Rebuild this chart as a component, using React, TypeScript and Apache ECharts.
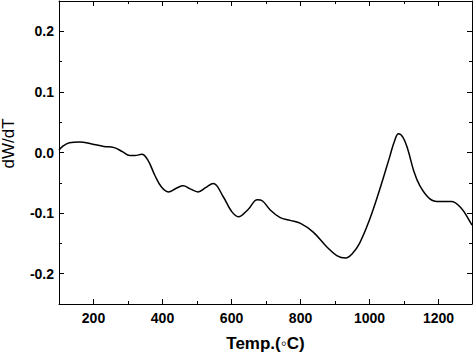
import React, { useEffect, useRef } from "react";
import * as echarts from "echarts";

const temps = [100, 108, 130, 160, 195, 230, 260, 285, 305, 320, 340, 358, 378, 397, 417, 440, 460, 480, 503, 525, 547, 576, 600, 620, 648, 675, 690, 711, 740, 770, 800, 836, 875, 905, 931, 950, 971, 1000, 1029, 1058, 1072, 1084, 1097, 1111, 1128, 1145, 1174, 1203, 1237, 1266, 1290, 1297];
const dwdt = [0.004, 0.009, 0.016, 0.0175, 0.014, 0.01, 0.008, 0.001, -0.005, -0.005, -0.003, -0.013, -0.038, -0.057, -0.065, -0.059, -0.055, -0.06, -0.065, -0.058, -0.051, -0.073, -0.097, -0.106, -0.094, -0.078, -0.08, -0.094, -0.107, -0.112, -0.117, -0.131, -0.155, -0.17, -0.174, -0.167, -0.15, -0.111, -0.062, -0.008, 0.018, 0.031, 0.025, 0.005, -0.03, -0.054, -0.076, -0.081, -0.081, -0.092, -0.113, -0.12];

const xMajor = [200, 400, 600, 800, 1000, 1200];
const xMinor = [300, 500, 700, 900, 1100];
const yMajor = [-0.2, -0.1, 0, 0.1, 0.2];
const yMinor = [-0.25, -0.15, -0.05, 0.05, 0.15, 0.25];

const FONT = "'Liberation Sans', Arial, sans-serif";

export default function App() {
  const ref = useRef<HTMLDivElement>(null);
  useEffect(() => {
    if (!ref.current) return;
    const chart = echarts.init(ref.current, null, { renderer: "svg" });
    const line = { lineStyle: { color: "#000", width: 1 } };
    const xBase = (position: string, ticks: number[], len: number, labels: boolean, showLine: boolean, extra: any = {}) => ({
      type: "value",
      min: 100,
      max: 1297,
      position,
      axisLine: { show: showLine, onZero: false, ...line },
      axisTick: { show: true, inside: true, length: len, customValues: ticks, ...line },
      axisLabel: labels
        ? {
            show: true,
            customValues: ticks,
            margin: 7,
            fontSize: 14,
            fontWeight: "bold",
            color: "#000",
            fontFamily: FONT,
            formatter: (v: number) => String(Math.round(v)),
          }
        : { show: false },
      splitLine: { show: false },
      ...extra,
    });
    const yBase = (position: string, ticks: number[], len: number, labels: boolean, showLine: boolean, extra: any = {}) => ({
      type: "value",
      min: -0.25,
      max: 0.25,
      position,
      axisLine: { show: showLine, onZero: false, ...line },
      axisTick: { show: true, inside: true, length: len, customValues: ticks, ...line },
      axisLabel: labels
        ? {
            show: true,
            customValues: ticks,
            margin: 5,
            fontSize: 14,
            fontWeight: "bold",
            color: "#000",
            fontFamily: FONT,
            formatter: (v: number) => v.toFixed(1),
          }
        : { show: false },
      splitLine: { show: false },
      ...extra,
    });
    chart.setOption({
      animation: false,
      backgroundColor: "#fff",
      grid: { left: 59, right: 1, top: 1, bottom: 49, containLabel: false, outerBoundsMode: "none" },
      xAxis: [
        xBase("bottom", xMajor, 5, true, true, {
          name: "Temp.(\u25E6C)",
          nameLocation: "middle",
          nameGap: 31,
          nameTextStyle: { fontSize: 17, fontWeight: "bold", color: "#000", fontFamily: FONT },
        }),
        xBase("bottom", xMinor, 3, false, false),
        xBase("top", xMajor, 5, false, true),
        xBase("top", xMinor, 3, false, false),
      ],
      yAxis: [
        yBase("left", yMajor, 5, true, true, {
          name: "dW/dT",
          nameLocation: "middle",
          nameRotate: 90,
          nameGap: 42,
          nameTextStyle: { fontSize: 17, color: "#000", fontFamily: FONT, padding: [0, 0, 0, 18] },
        }),
        yBase("left", yMinor, 3, false, false),
        yBase("right", yMajor, 5, false, true),
        yBase("right", yMinor, 3, false, false),
      ],
      series: [
        {
          type: "line",
          xAxisIndex: 0,
          yAxisIndex: 0,
          data: temps.map((t, i) => [t, dwdt[i]]),
          smooth: 0.4,
          showSymbol: false,
          lineStyle: { color: "#000", width: 1.5 },
          clip: true,
        },
      ],
    });
    return () => chart.dispose();
  }, []);
  return <div ref={ref} style={{ position: "fixed", left: 0, top: 0, width: 473, height: 353 }} />;
}
